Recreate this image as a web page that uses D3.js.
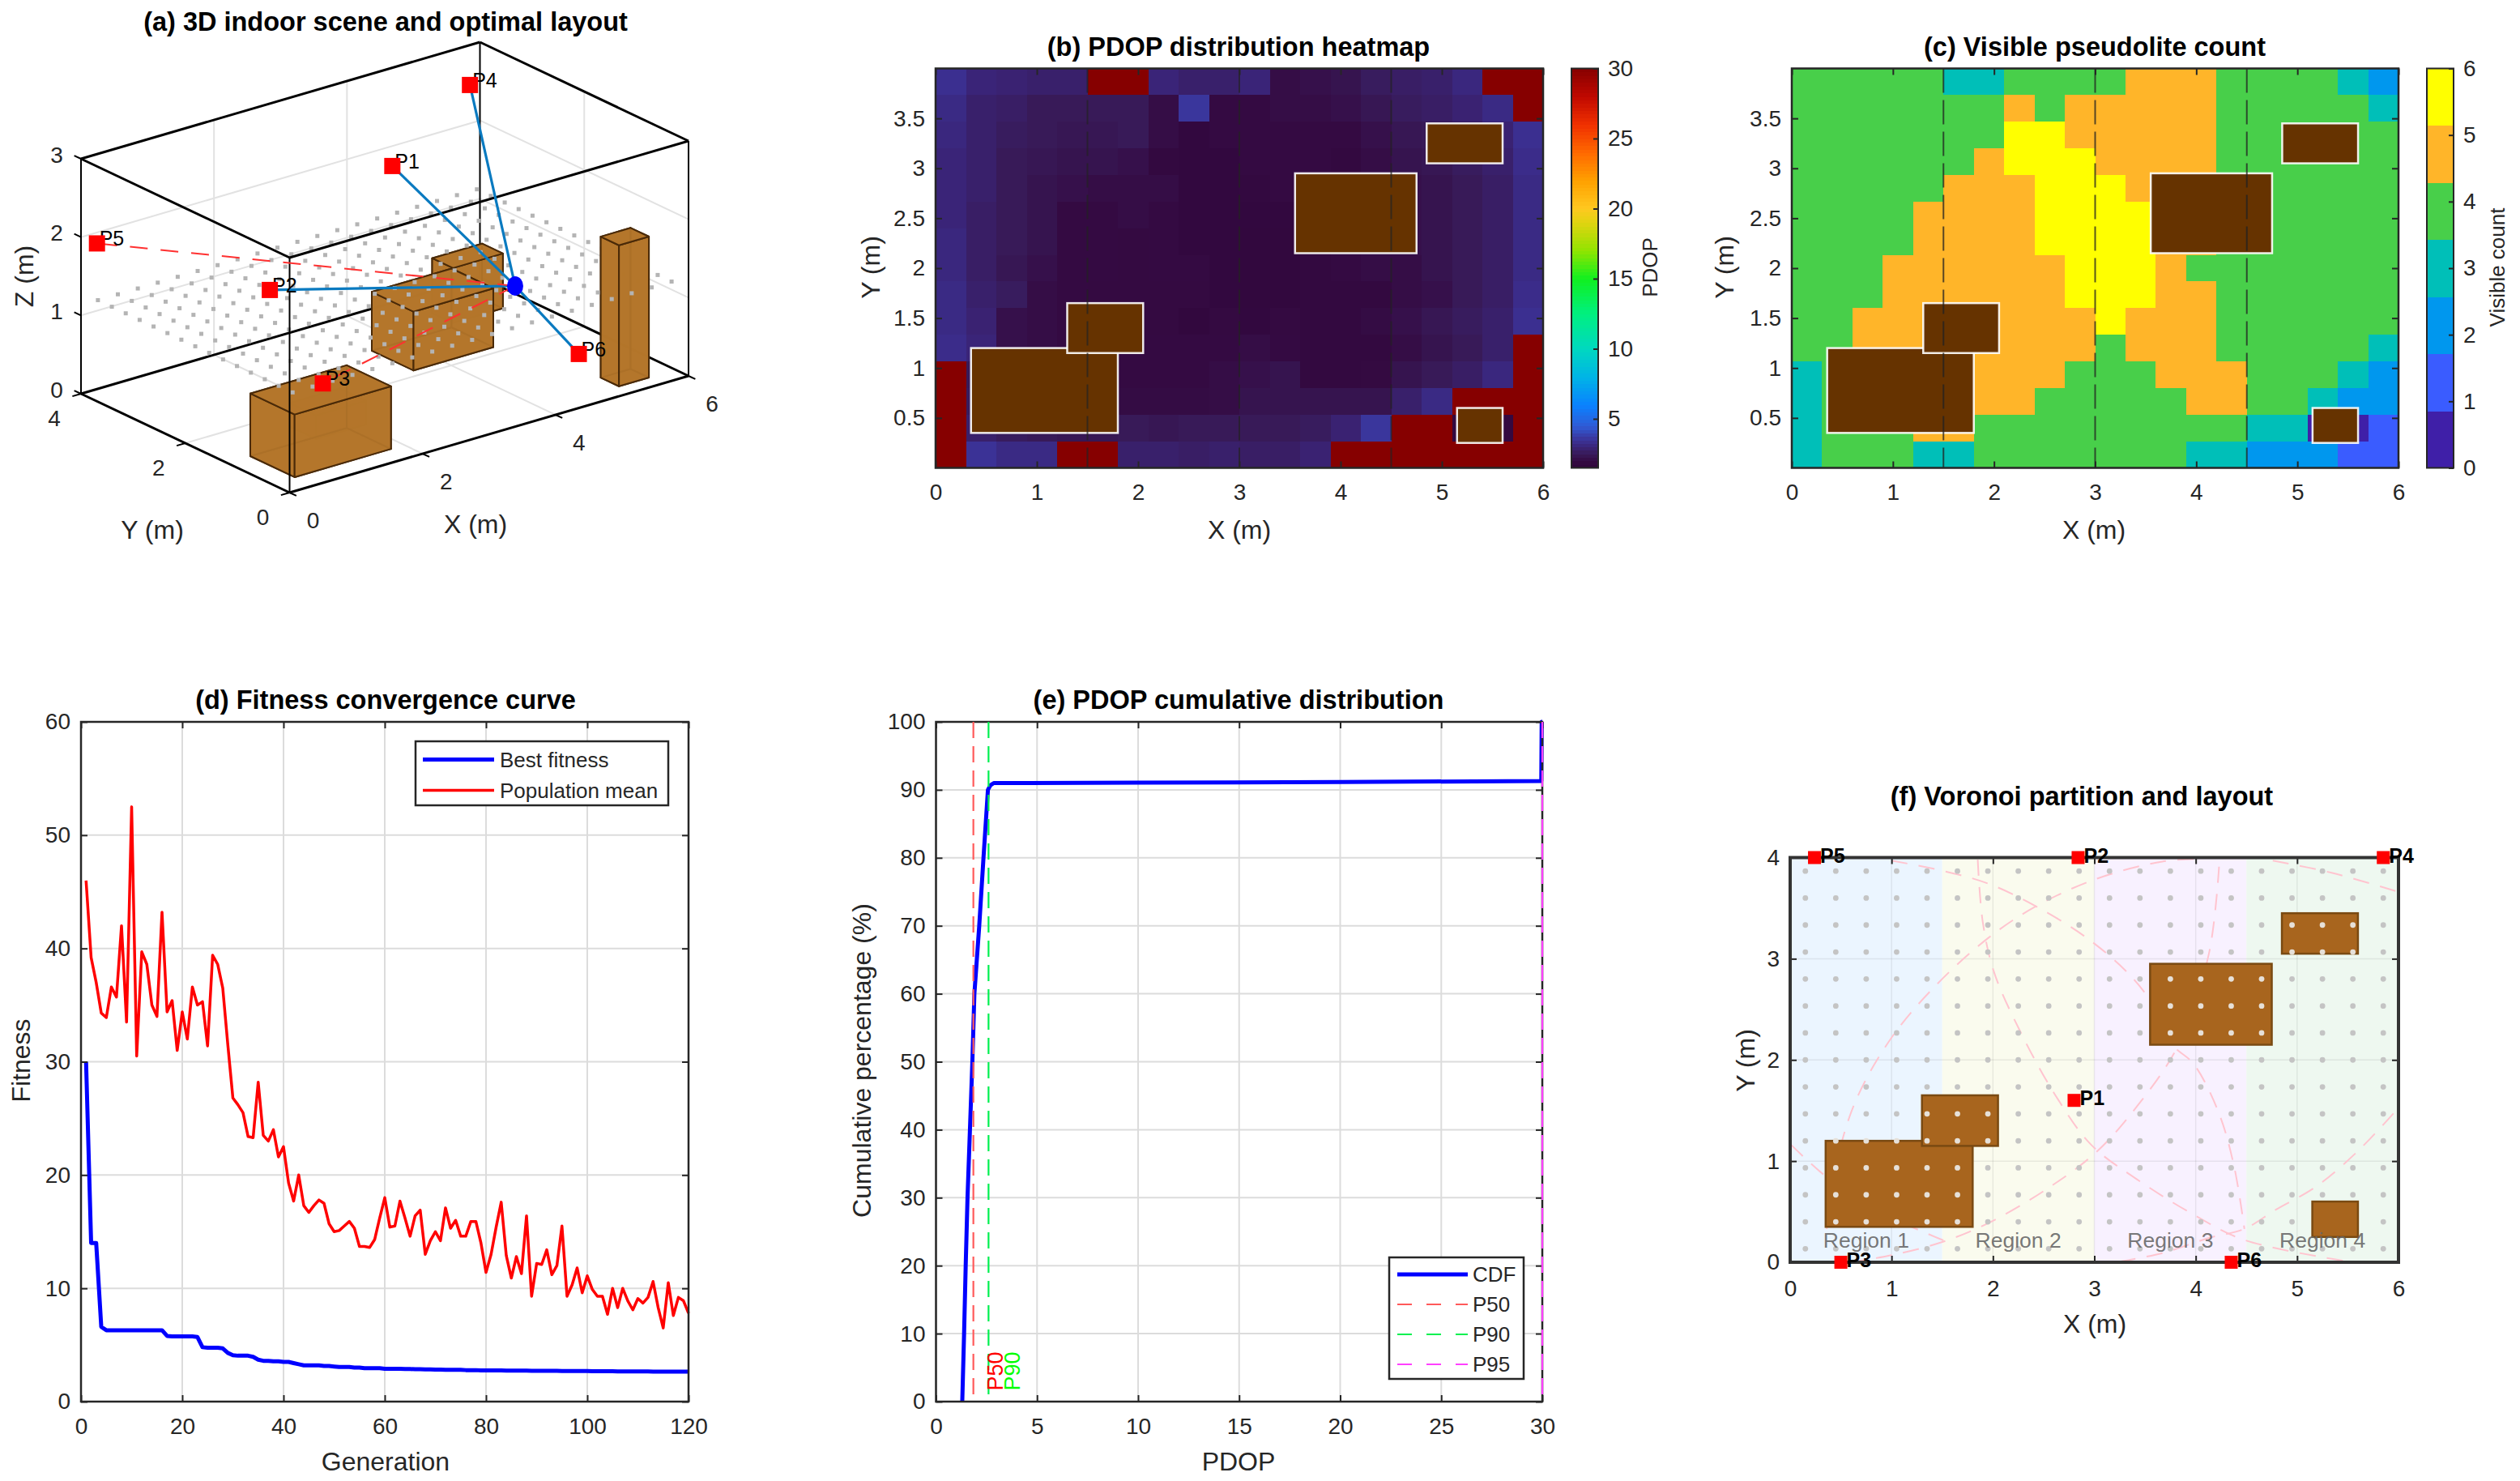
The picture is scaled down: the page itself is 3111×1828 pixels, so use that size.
<!DOCTYPE html>
<html><head><meta charset="utf-8">
<script src="https://cdn.jsdelivr.net/npm/d3@7/dist/d3.min.js"></script>
<style>
html,body{margin:0;padding:0;background:#fff}
svg{display:block}
text{font-family:"Liberation Sans",Arial,sans-serif}
</style></head><body>
<svg id="fig" width="3111" height="1828"></svg>
<script>
// ---------- DATA ----------
const obstacles = [
  {x0:0.35,x1:1.8,y0:0.35,y1:1.2,h:0.8},
  {x0:1.3,x1:2.05,y0:1.15,y1:1.65,h:0.3},
  {x0:3.55,x1:4.75,y0:2.15,y1:2.95,h:0.75},
  {x0:4.85,x1:5.6,y0:3.05,y1:3.45,h:0.7},
  {x0:5.15,x1:5.6,y0:0.25,y1:0.6,h:1.8}
];
const pseudolites = [
  {n:"P1",x:2.8,y:1.6,z:2.97},{n:"P2",x:2.84,y:4,z:0.62},{n:"P3",x:0.5,y:0,z:1.27},
  {n:"P4",x:5.85,y:4,z:2.49},{n:"P5",x:0.24,y:4,z:1.86},{n:"P6",x:4.35,y:0,z:0.69}
];
const receiver = {x:4.31,y:1.17,z:1.2};
const losNames = ["P1","P2","P4","P6"];
const nlosNames = ["P3","P5"];
const planeZ = 1.2;
// PDOP grid, rows top (y=4) to bottom (y=0), 20 columns
const R = 30;
const pdopGrid = [
 [3.4,3.0,2.9,2.8,2.8,R,R,3.0,2.8,2.8,3.0,2.1,2.2,2.3,2.6,2.7,2.8,3.1,R,R],
 [3.2,2.8,2.7,2.5,2.5,2.5,2.5,2.1,3.6,2.0,2.0,2.1,2.1,2.2,2.4,2.6,2.7,2.9,3.2,R],
 [3.1,2.8,2.6,2.5,2.4,2.4,2.5,2.1,1.8,2.0,2.0,2.0,2.0,2.0,2.2,2.4,2.5,2.6,2.9,3.4],
 [3.0,2.8,2.5,2.4,2.3,2.3,2.2,1.9,1.8,1.8,2.0,2.0,2.0,1.9,2.1,2.3,2.4,2.6,2.8,3.3],
 [3.0,2.8,2.5,2.3,2.2,2.1,2.1,2.1,1.8,1.8,1.9,2.0,2.1,2.2,2.2,2.2,2.3,2.5,2.7,3.2],
 [3.0,2.7,2.5,2.3,2.0,2.0,2.1,2.0,1.8,1.8,1.8,1.8,2.1,2.2,2.2,2.2,2.3,2.5,2.7,3.2],
 [3.1,2.7,2.5,2.3,2.0,2.0,1.95,2.0,1.8,1.8,1.75,1.75,2.0,2.1,2.2,2.2,2.3,2.5,2.7,3.2],
 [3.1,2.7,2.4,2.2,2.0,2.0,1.95,2.0,2.0,1.8,1.75,1.75,1.9,2.0,2.1,2.1,2.3,2.5,2.7,3.2],
 [3.2,2.8,2.6,2.1,2.0,1.95,1.95,1.95,1.95,1.8,1.75,1.75,1.9,1.85,1.85,2.1,2.2,2.5,2.7,3.3],
 [3.2,2.9,2.2,2.1,2.0,2.0,1.95,1.95,1.75,1.95,1.8,1.95,1.9,1.85,2.05,2.2,2.4,2.6,2.8,3.4],
 [3.3,3.0,2.2,2.1,2.0,2.0,2.0,2.0,2.0,2.0,2.1,2.0,1.9,1.85,1.9,2.1,2.3,2.5,2.8,R],
 [R,2.5,2.3,2.2,2.1,2.1,2.0,2.0,2.0,2.1,2.2,2.3,1.9,1.9,1.95,2.3,2.5,2.7,3.1,R],
 [R,2.6,2.4,2.3,2.2,2.2,2.05,2.05,2.05,2.1,2.3,2.3,2.3,2.3,2.3,2.8,3.2,R,R,R],
 [R,2.8,2.6,2.5,2.4,2.4,2.5,2.4,2.5,2.5,2.5,2.5,2.6,2.9,3.6,R,R,1.9,1.9,R],
 [R,3.5,3.2,3.2,R,R,2.8,2.8,2.7,2.8,2.7,2.7,2.9,R,R,R,R,R,R,R]
];
// Visible count grid, rows top to bottom
const countGrid = [
 [4,4,4,4,4,3,3,4,4,4,4,5,5,5,4,4,4,4,3,2],
 [4,4,4,4,4,4,4,5,4,5,5,5,5,5,4,4,4,4,4,3],
 [4,4,4,4,4,4,4,6,6,5,5,5,5,5,4,4,4,4,4,4],
 [4,4,4,4,4,4,5,6,6,6,5,5,5,5,4,4,4,4,4,4],
 [4,4,4,4,4,5,5,5,6,6,6,5,5,5,4,4,4,4,4,4],
 [4,4,4,4,5,5,5,5,6,6,6,6,5,5,4,4,4,4,4,4],
 [4,4,4,4,5,5,5,5,6,6,6,6,5,5,4,4,4,4,4,4],
 [4,4,4,5,5,5,5,5,5,6,6,6,5,4,4,4,4,4,4,4],
 [4,4,4,5,5,5,5,5,5,6,6,6,5,5,4,4,4,4,4,4],
 [4,4,5,5,5,5,5,5,5,5,6,5,5,5,4,4,4,4,4,4],
 [4,4,5,5,5,5,5,5,5,5,4,5,5,5,4,4,4,4,4,3],
 [3,4,4,5,5,5,5,5,5,4,4,4,5,5,5,4,4,4,3,2],
 [3,4,4,5,5,5,5,5,4,4,4,4,4,5,5,4,4,3,2,2],
 [3,4,4,4,5,5,4,4,4,4,4,4,4,4,4,3,3,0,0,1],
 [3,4,4,4,3,3,4,4,4,4,4,4,4,3,3,2,2,2,1,1]
];
const pdopStops = [1.5,2,2.5,3,3.5,4.5,6,8,10,12.5,15,17,19,20,22,24,26,28,30];
const pdopColors = ["#30063a","#340a42","#381a58","#3a2478","#3b3296","#2f5bd6","#0a82ff","#00b4e6","#00d8c0","#00f080","#10f020","#90e400","#e0d410","#ffc820","#ffa000","#ff6a00","#f03000","#c00800","#860000"];
const countColors = ["#3f1fa8","#3a5cff","#0097ee","#00bfb8","#48cf4a","#ffb529","#ffff00"];
const pdopTicks = [5,10,15,20,25,30];
const countTicks = [0,1,2,3,4,5,6];
const dashedX = [1.5,3,4.5];
const generations = d3.range(1,121);
const bestFitness = [30,14,14,6.6,6.3,6.3,6.3,6.3,6.3,6.3,6.3,6.3,6.3,6.3,6.3,6.3,5.8,5.75,5.75,5.75,5.75,5.75,5.7,4.8,4.75,4.75,4.75,4.7,4.3,4.1,4.05,4.05,4.05,3.95,3.7,3.6,3.6,3.55,3.55,3.5,3.5,3.4,3.3,3.2,3.2,3.2,3.2,3.15,3.15,3.1,3.05,3.05,3.05,3,3,2.95,2.95,2.95,2.95,2.9,2.9,2.9,2.9,2.88,2.88,2.86,2.86,2.85,2.85,2.82,2.82,2.8,2.8,2.8,2.8,2.78,2.78,2.78,2.76,2.75,2.75,2.75,2.75,2.74,2.74,2.74,2.73,2.73,2.72,2.72,2.72,2.72,2.71,2.71,2.7,2.7,2.7,2.7,2.7,2.7,2.69,2.69,2.68,2.68,2.68,2.67,2.67,2.67,2.66,2.66,2.66,2.66,2.65,2.65,2.65,2.65,2.65,2.65,2.65,2.65];
const popMean = [46,39.2,37,34.3,33.9,36.6,35.7,42,33.5,52.5,30.5,39.7,38.6,35,34,43.2,34.4,35.4,31,34.4,32,36.6,35,35.3,31.4,39.4,38.6,36.5,31.5,26.8,26.2,25.5,23.4,23.3,28.2,23.5,23,24,21.6,22.5,19.3,17.7,20,17.3,16.7,17.3,17.8,17.5,15.7,15,15.1,15.5,15.9,15.3,13.7,13.7,13.6,14.3,16.2,18,15.4,15.5,17.7,16.2,14.6,16.4,16.9,13,14.2,15,14.2,17.1,15.3,16,14.6,14.6,15.9,15.9,14,11.4,13,15.4,17.6,12.9,10.9,12.8,11.3,16.4,9.3,12.2,12.1,13.4,11.2,12,15.5,9.3,10.3,11.8,9.6,11.1,9.9,9.3,9.3,7.7,10,8.3,10,8.9,8.1,9.1,8.7,9.2,10.6,8.3,6.5,10.5,7.6,9.2,8.9,7.8];
const cdfPdop = [1.3,1.39,1.47,1.56,1.68,1.8,1.9,2.14,2.35,2.57,2.7,2.86,10,20,29.95,29.97,30];
const cdfPct  = [0,10,20,30,40,50,60,70,80,90,90.7,91,91.05,91.15,91.3,100,100];
const percentiles = [{n:"P50",v:1.85,c:"#ff5a5a",t:"#ff0000",tx:3.3},{n:"P90",v:2.6,c:"#00f050",t:"#00ff00",tx:4.15},{n:"P95",v:30,c:"#ff40ff",t:"#ff00ff",tx:null}];
const regions = [
  {n:"Region 1",x0:0,x1:1.5,c:"#ebf5ff"},{n:"Region 2",x0:1.5,x1:3,c:"#fafbee"},
  {n:"Region 3",x0:3,x1:4.5,c:"#f8f1ff"},{n:"Region 4",x0:4.5,x1:6,c:"#eef8f0"}
];
const arcs = [
 [[0.36,0.33],[0.44,0.9],[0.64,1.58],[1.0,2.22],[1.45,2.75],[1.96,3.21],[2.41,3.51],[3.02,3.79],[3.67,3.96],[4.08,3.99]],
 [[1.0,3.97],[1.5,3.87],[1.96,3.74],[2.44,3.51],[2.92,3.21],[3.32,2.87],[3.57,2.56],[3.77,2.15],[3.98,1.96],[4.23,1.47],[4.38,0.94],[4.48,0.33]],
 [[1.85,3.98],[1.9,3.36],[2.01,2.87],[2.26,2.3],[2.61,1.66],[2.97,1.16],[3.42,0.82],[3.98,0.47],[4.48,0.22],[5.49,0.01]],
 [[0.01,1.16],[0.29,0.9],[0.74,0.56],[1.15,0.37],[1.55,0.2]],
 [[4.23,3.91],[4.13,3.05],[3.83,2.15],[3.42,1.54],[3.02,1.09],[2.51,0.71],[1.96,0.39],[1.5,0.2],[1.0,0.07],[0.59,0]],
 [[5.95,1.47],[5.59,1.09],[5.19,0.75],[4.79,0.52],[4.48,0.33],[4.13,0.24],[3.67,0.09],[3.27,0.01]],
 [[4.76,3.97],[5.34,3.85],[6,3.66]]
];
const gridXs = d3.range(20).map(i=>(i+0.5)*6/20);
const gridYs = d3.range(15).map(i=>(i+0.5)*4/15);

// ---------- HELPERS ----------
const svg = d3.select("#fig");
const INK = "#262626";
const TICK = 28;
function label(s,x,y,txt,o={}){
  const t = s.append("text").attr("x",x).attr("y",y).text(txt)
    .attr("text-anchor",o.anchor||"middle").attr("dominant-baseline","central")
    .attr("font-size",o.size||32).attr("fill",o.fill||INK)
    .attr("font-weight",o.weight||"normal");
  if(o.rot!=null) t.attr("transform",`rotate(${o.rot} ${x} ${y})`);
  return t;
}
function title(s,x,y,txt){ label(s,x,y,txt,{size:32.5,weight:"bold",fill:"#000"}); }
function style(g){
  g.select(".domain").remove();
  g.selectAll("line").attr("stroke",INK).attr("stroke-width",2);
  g.selectAll("text").attr("font-size",TICK).attr("fill",INK).attr("font-family",'"Liberation Sans"');
}
function axes(s,x,y,xt,yt,o={}){
  const [xa,xb]=x.range(), [yb,ya]=y.range();
  const gx=s.append("g").attr("transform",`translate(0,${yb})`)
    .call(d3.axisBottom(x).tickValues(xt).tickFormat(d=>d).tickSizeInner(-8).tickSizeOuter(0).tickPadding(o.xpad||20));
  style(gx);
  const gy=s.append("g").attr("transform",`translate(${xa},0)`)
    .call(d3.axisLeft(y).tickValues(yt).tickFormat(d=>d).tickSizeInner(-8).tickSizeOuter(0).tickPadding(o.ypad||13));
  style(gy);
  // mirrored ticks on top / right
  const gx2=s.append("g").attr("transform",`translate(0,${ya})`)
    .call(d3.axisTop(x).tickValues(xt).tickFormat("").tickSizeInner(-8).tickSizeOuter(0));
  style(gx2);
  const gy2=s.append("g").attr("transform",`translate(${xb},0)`)
    .call(d3.axisRight(y).tickValues(yt).tickFormat("").tickSizeInner(-8).tickSizeOuter(0));
  style(gy2);
  s.append("rect").attr("x",xa).attr("y",ya).attr("width",xb-xa).attr("height",yb-ya)
    .attr("fill","none").attr("stroke",o.box||INK).attr("stroke-width",o.boxw||2.5);
}
function grid(s,x,y,xt,yt,col="#dcdcdc",w=2){
  const [xa,xb]=x.range(), [yb,ya]=y.range();
  s.append("g").selectAll("line").data(xt).join("line")
    .attr("x1",d=>x(d)).attr("x2",d=>x(d)).attr("y1",ya).attr("y2",yb).attr("stroke",col).attr("stroke-width",w);
  s.append("g").selectAll("line").data(yt).join("line")
    .attr("y1",d=>y(d)).attr("y2",d=>y(d)).attr("x1",xa).attr("x2",xb).attr("stroke",col).attr("stroke-width",w);
}

// ---------- HEATMAPS ----------
const halfTicks=[0.5,1,1.5,2,2.5,3,3.5], xInts=[0,1,2,3,4,5,6];
function heat(s,xr,yr,gridData,colorFn,lineOpacity){
  const x=d3.scaleLinear([0,6],xr), y=d3.scaleLinear([0,4],yr);
  const cw=6/20, ch=4/15;
  gridData.forEach((row,r)=>{
    s.append("g").selectAll("rect").data(row).join("rect")
      .attr("x",(d,c)=>x(c*cw)).attr("width",(d,c)=>x((c+1)*cw)-x(c*cw)+0.5)
      .attr("y",y(4-r*ch)).attr("height",y(4-(r+1)*ch)-y(4-r*ch)+0.5)
      .attr("fill",d=>colorFn(d)).attr("shape-rendering","crispEdges");
  });
  s.append("g").selectAll("rect").data(obstacles).join("rect")
    .attr("x",d=>x(d.x0)).attr("width",d=>x(d.x1)-x(d.x0))
    .attr("y",d=>y(d.y1)).attr("height",d=>y(d.y0)-y(d.y1))
    .attr("fill","#663300").attr("stroke","#ffffff").attr("stroke-opacity",.9).attr("stroke-width",2.5);
  s.append("g").selectAll("line").data(dashedX).join("line")
    .attr("x1",d=>x(d)).attr("x2",d=>x(d)).attr("y1",yr[1]).attr("y2",yr[0])
    .attr("stroke","#222").attr("stroke-opacity",lineOpacity).attr("stroke-width",2).attr("stroke-dasharray","30 9");
  axes(s,x,y,xInts,halfTicks);
}
const pdopColor=d3.scaleLinear().domain(pdopStops).range(pdopColors).clamp(true);
const countColor=d3.scaleOrdinal().domain(countTicks).range(countColors);
const gb=svg.append("g");
heat(gb,[1155,1905],[577.5,84.5],pdopGrid,pdopColor,.7);
title(gb,1529,58,"(b) PDOP distribution heatmap");
label(gb,1530,654,"X (m)");
label(gb,1075,330,"Y (m)",{rot:-90});
// colorbar b
{
 const y=d3.scaleLinear([1.5,30],[577.5,84.5]);
 const vals=d3.range(1.5,30,0.25);
 gb.append("g").selectAll("rect").data(vals).join("rect")
  .attr("x",1940).attr("width",33).attr("y",d=>y(d+0.25)).attr("height",d=>y(d)-y(d+0.25)+0.6)
  .attr("fill",d=>pdopColor(d+0.125)).attr("shape-rendering","crispEdges");
 gb.append("rect").attr("x",1940).attr("y",84.5).attr("width",33).attr("height",493).attr("fill","none").attr("stroke",INK).attr("stroke-width",2);
 const a=gb.append("g").attr("transform","translate(1973,0)").call(d3.axisRight(y).tickValues(pdopTicks).tickFormat(d=>d).tickSizeInner(-6).tickSizeOuter(0).tickPadding(12));
 style(a);
 label(gb,2037,330,"PDOP",{size:26,rot:-90});
}
const gc=svg.append("g");
heat(gc,[2212,2961],[577.5,84.5],countGrid,d=>countColor(d),.75);
title(gc,2586,58,"(c) Visible pseudolite count");
label(gc,2585,654,"X (m)");
label(gc,2129,330,"Y (m)",{rot:-90});
{
 const y=d3.scaleLinear([0,6],[577.5,84.5]);
 const band=d3.scaleLinear([0,7],[577.5,84.5]);
 gc.append("g").selectAll("rect").data(countTicks).join("rect")
  .attr("x",2996).attr("width",33).attr("y",d=>band(d+1)).attr("height",d=>band(d)-band(d+1)+0.5)
  .attr("fill",d=>countColor(d)).attr("shape-rendering","crispEdges");
 gc.append("rect").attr("x",2996).attr("y",84.5).attr("width",33).attr("height",493).attr("fill","none").attr("stroke",INK).attr("stroke-width",2);
 const a=gc.append("g").attr("transform","translate(3029,0)").call(d3.axisRight(y).tickValues(countTicks).tickFormat(d=>d).tickSizeInner(-6).tickSizeOuter(0).tickPadding(12));
 style(a);
 label(gc,3083,330,"Visible count",{size:26,rot:-90});
}

// ---------- (d) ----------
const gd=svg.append("g");
{
 const x=d3.scaleLinear([0,120],[100,850]), y=d3.scaleLinear([0,60],[1730,891]);
 const xt=d3.range(0,121,20), yt=d3.range(0,61,10);
 grid(gd,x,y,xt,yt);
 const line=d3.line().x((d,i)=>x(generations[i])).y(d=>y(d));
 gd.append("path").datum(popMean).attr("d",line).attr("fill","none").attr("stroke","#ff0000").attr("stroke-width",3.5).attr("stroke-linejoin","round");
 gd.append("path").datum(bestFitness).attr("d",line).attr("fill","none").attr("stroke","#0000ff").attr("stroke-width",5).attr("stroke-linejoin","round");
 axes(gd,x,y,xt,yt);
 title(gd,476,864,"(d) Fitness convergence curve");
 label(gd,476,1804,"Generation");
 label(gd,26,1309,"Fitness",{rot:-90});
 gd.append("rect").attr("x",513).attr("y",915).attr("width",312).attr("height",79).attr("fill","#fff").attr("stroke",INK).attr("stroke-width",2.5);
 [["Best fitness","#0000ff",5,937.5],["Population mean","#ff0000",3.5,975.5]].forEach(e=>{
  gd.append("line").attr("x1",522).attr("x2",610).attr("y1",e[3]).attr("y2",e[3]).attr("stroke",e[1]).attr("stroke-width",e[2]);
  label(gd,617,e[3],e[0],{anchor:"start",size:26});
 });
}

// ---------- (e) ----------
const ge=svg.append("g");
{
 const x=d3.scaleLinear([0,30],[1155.5,1904]), y=d3.scaleLinear([0,100],[1730,891]);
 const xt=d3.range(0,31,5), yt=d3.range(0,101,10);
 grid(ge,x,y,xt,yt);
 const line=d3.line().x((d,i)=>x(cdfPdop[i])).y(d=>y(d));
 ge.append("path").datum(cdfPct).attr("d",line).attr("fill","none").attr("stroke","#0000ff").attr("stroke-width",5).attr("stroke-linejoin","round");
 axes(ge,x,y,xt,yt);
 ge.append("g").selectAll("line").data(percentiles).join("line")
  .attr("x1",d=>x(d.v)).attr("x2",d=>x(d.v)).attr("y1",891).attr("y2",1730)
  .attr("stroke",d=>d.c).attr("stroke-width",2.2).attr("stroke-dasharray","20 10");
 percentiles.filter(d=>d.tx!=null).forEach(d=>{
  ge.append("text").attr("transform",`translate(${x(d.tx)},${y(1.6)}) rotate(-90)`).text(d.n)
   .attr("font-size",27).attr("fill",d.t);
 });
 title(ge,1529,864,"(e) PDOP cumulative distribution");
 label(ge,1529,1804,"PDOP");
 label(ge,1064,1309,"Cumulative percentage (%)",{rot:-90});
 ge.append("rect").attr("x",1715).attr("y",1552).attr("width",166).attr("height",150).attr("fill","#fff").attr("stroke",INK).attr("stroke-width",2.5);
 [["CDF","#0000ff",5,1573,null],["P50","#ff5a5a",2.2,1610,"18 18"],["P90","#00f050",2.2,1647,"18 18"],["P95","#ff40ff",2.2,1684,"18 18"]].forEach(e=>{
  const l=ge.append("line").attr("x1",1725).attr("x2",1812).attr("y1",e[3]).attr("y2",e[3]).attr("stroke",e[1]).attr("stroke-width",e[2]);
  if(e[4]) l.attr("stroke-dasharray",e[4]);
  label(ge,1818,e[3],e[0],{anchor:"start",size:26});
 });
}

// ---------- (f) ----------
const gf=svg.append("g");
{
 const x=d3.scaleLinear([0,6],[2210,2961]), y=d3.scaleLinear([0,4],[1558,1058.5]);
 gf.append("g").selectAll("rect").data(regions).join("rect")
  .attr("x",d=>x(d.x0)).attr("width",d=>x(d.x1)-x(d.x0)).attr("y",1058.5).attr("height",499.5).attr("fill",d=>d.c);
 grid(gf,x,y,[1,2,3,4,5],[1,2,3],"rgba(0,0,0,0.07)",1.5);
 const curve=d3.line().x(d=>x(d[0])).y(d=>y(d[1])).curve(d3.curveCatmullRom);
 gf.append("g").selectAll("path").data(arcs).join("path").attr("d",curve).attr("fill","none")
  .attr("stroke","#ffc4cf").attr("stroke-width",2).attr("stroke-dasharray","20 14");
 const obs=(sel,data)=>sel.append("g").selectAll("rect").data(data).join("rect")
  .attr("x",d=>x(d.x0)).attr("width",d=>x(d.x1)-x(d.x0)).attr("y",d=>y(d.y1)).attr("height",d=>y(d.y0)-y(d.y1))
  .attr("fill","#a8651e").attr("stroke","#7a4a12").attr("stroke-width",2.5);
 obs(gf,obstacles.slice(0,4));
 const pts=gridXs.flatMap(a=>gridYs.map(b=>[a,b]));
 gf.append("g").selectAll("circle").data(pts).join("circle")
  .attr("cx",d=>x(d[0])).attr("cy",d=>y(d[1])).attr("r",3.4)
  .attr("fill",d=>obstacles.slice(0,4).some(o=>d[0]>o.x0&&d[0]<o.x1&&d[1]>o.y0-0.03&&d[1]<o.y1+0.03)?"#e6e0d8":"#c4c4c4");
 obs(gf,obstacles.slice(4));
 gf.append("g").selectAll("text").data(regions).join("text")
  .attr("x",d=>x((d.x0+d.x1)/2)).attr("y",y(0.22)).text(d=>d.n)
  .attr("text-anchor","middle").attr("dominant-baseline","central").attr("font-size",26.5).attr("fill","#666").attr("fill-opacity",.9);
 axes(gf,x,y,xInts,[0,1,2,3,4],{xpad:22,box:"#333",boxw:4});
 gf.append("g").selectAll("rect").data(pseudolites).join("rect")
  .attr("x",d=>x(d.x)-8).attr("y",d=>y(d.y)-8).attr("width",16).attr("height",16).attr("fill","#ff0000");
 gf.append("g").selectAll("text").data(pseudolites).join("text")
  .attr("x",d=>x(d.x)+7).attr("y",d=>y(d.y)-3).text(d=>d.n)
  .attr("dominant-baseline","central").attr("font-size",25).attr("font-weight","bold").attr("fill","#000");
 title(gf,2570,983,"(f) Voronoi partition and layout");
 label(gf,2586,1634,"X (m)");
 label(gf,2155,1309,"Y (m)",{rot:-90});
}

// ---------- (a) ----------
const ga=svg.append("g");
{
 const ox=357.5, oy=608;
 const xPx=d3.scaleLinear([0,6],[0,492.5]), yPx=d3.scaleLinear([0,4],[0,-257.5]);
 const xPy=d3.scaleLinear([0,6],[0,-144]), yPy=d3.scaleLinear([0,4],[0,-122]), zPy=d3.scaleLinear([0,3],[0,-290]);
 const P=(x,y,z)=>[ox+xPx(x)+yPx(y), oy+xPy(x)+yPy(y)+zPy(z)];
 const seg=(s,a,b,col,w,dash)=>{const p=P(...a),q=P(...b);
  const l=s.append("line").attr("x1",p[0]).attr("y1",p[1]).attr("x2",q[0]).attr("y2",q[1]).attr("stroke",col).attr("stroke-width",w);
  if(dash) l.attr("stroke-dasharray",dash); return l;};
 const GC="#e2e2e2";
 [2,4].forEach(v=>{seg(ga,[v,0,0],[v,4,0],GC,2);seg(ga,[v,4,0],[v,4,3],GC,2);});
 seg(ga,[0,2,0],[6,2,0],GC,2); seg(ga,[6,2,0],[6,2,3],GC,2);
 [1,2].forEach(v=>{seg(ga,[0,4,v],[6,4,v],GC,2);seg(ga,[6,4,v],[6,0,v],GC,2);});
 // back box edges
 seg(ga,[0,4,0],[6,4,0],"#000",3); seg(ga,[6,4,0],[6,0,0],"#000",3); seg(ga,[6,4,0],[6,4,3],"#000",2);
 seg(ga,[0,4,3],[6,4,3],"#000",3); seg(ga,[6,4,3],[6,0,3],"#000",3);
 seg(ga,[0,4,0],[0,4,3],"#000",2); seg(ga,[6,0,0],[6,0,3],"#000",2);

 const plane=gridXs.flatMap(a=>gridYs.map(b=>[a,b]));
 const behind=plane.filter(d=>d[0]>5.15&&d[1]>0.25);
 const front=plane.filter(d=>!(d[0]>5.15&&d[1]>0.25));
 const dots=(data)=>ga.append("g").selectAll("rect").data(data).join("rect")
  .attr("x",d=>P(d[0],d[1],planeZ)[0]-2.5).attr("y",d=>P(d[0],d[1],planeZ)[1]-2.5)
  .attr("width",5).attr("height",5).attr("fill","#b4b4b4");
 dots(behind);
 const poly=d3.line();
 const box=(o)=>{
  const {x0,x1,y0,y1,h}=o;
  const faces=[
   [[x0,y0,0],[x1,y0,0],[x1,y1,0],[x0,y1,0]],
   [[x0,y1,0],[x1,y1,0],[x1,y1,h],[x0,y1,h]],
   [[x1,y0,0],[x1,y1,0],[x1,y1,h],[x1,y0,h]],
   [[x0,y0,0],[x0,y1,0],[x0,y1,h],[x0,y0,h]],
   [[x0,y0,0],[x1,y0,0],[x1,y0,h],[x0,y0,h]],
   [[x0,y0,h],[x1,y0,h],[x1,y1,h],[x0,y1,h]]
  ];
  faces.forEach(f=>{
   ga.append("path").attr("d",poly(f.map(p=>P(...p)))+"Z").attr("fill","#b4752a").attr("fill-opacity",.93)
    .attr("stroke","#4a2a08").attr("stroke-width",2).attr("stroke-linejoin","round");
  });
 };
 [3,2,4,1,0].forEach(i=>box(obstacles[i]));
 dots(front);

 // corner lines in front of the scene
 seg(ga,[0,4,0],[0,0,0],"#000",3); seg(ga,[0,0,0],[6,0,0],"#000",3);
 seg(ga,[0,0,0],[0,0,3],"#000",2); seg(ga,[0,4,3],[0,0,3],"#000",3); seg(ga,[0,0,3],[6,0,3],"#000",3);

 // rays
 const find=n=>pseudolites.find(p=>p.n===n);
 const rec=[receiver.x,receiver.y,receiver.z];
 losNames.forEach(n=>{const p=find(n); seg(ga,rec,[p.x,p.y,p.z],"#0a7ac0",3.2);});
 nlosNames.forEach(n=>{const p=find(n); seg(ga,rec,[p.x,p.y,p.z],"#ff3030",2,"22 16");});
 const rp=P(...rec);
 ga.append("ellipse").attr("cx",rp[0]).attr("cy",rp[1]).attr("rx",10).attr("ry",12).attr("fill","#0000ff");
 // pseudolites
 ga.append("g").selectAll("text").data(pseudolites).join("text")
  .attr("x",d=>P(d.x,d.y,d.z)[0]+3).attr("y",d=>P(d.x,d.y,d.z)[1]-6).text(d=>d.n)
  .attr("dominant-baseline","central").attr("font-size",25).attr("fill","#000");
 ga.append("g").selectAll("rect").data(pseudolites).join("rect")
  .attr("x",d=>P(d.x,d.y,d.z)[0]-10).attr("y",d=>P(d.x,d.y,d.z)[1]-10).attr("width",20).attr("height",20).attr("fill","#ff0000");

 // ticks and labels
 [0,2,4,6].forEach(v=>{const p=P(v,0,0); seg(ga,[v,0,0],[v,-0.13,0],"#000",2);
  label(ga,p[0]+29,p[1]+34,v,{size:TICK});});
 [0,2,4].forEach(v=>{const p=P(0,v,0); seg(ga,[0,v,0],[-0.13,v,0],"#000",2);
  label(ga,p[0]-33,p[1]+30,v,{size:TICK});});
 [0,1,2,3].forEach(v=>{const p=P(0,4,v); seg(ga,[0,4,v],[0,4.13,v],"#000",2);
  label(ga,p[0]-30,p[1]-5,v,{size:TICK});});
 title(ga,476,27,"(a) 3D indoor scene and optimal layout");
 label(ga,587,647,"X (m)");
 label(ga,188,654,"Y (m)");
 label(ga,30,341,"Z (m)",{rot:-90});
}
</script>
</body></html>
